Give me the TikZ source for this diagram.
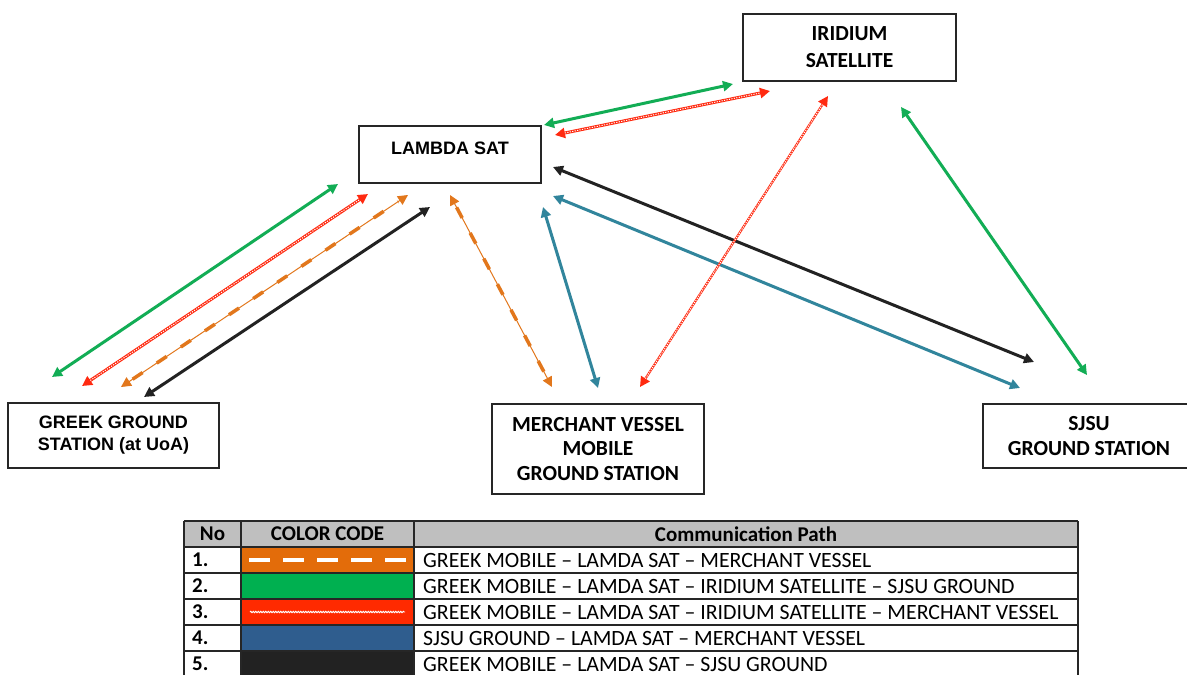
\documentclass[tikz,border=0pt]{standalone}
\usepackage{fontspec}
\setmainfont{Carlito}
\newfontfamily\arialf{Liberation Sans}
\usetikzlibrary{arrows.meta,decorations.pathmorphing}
\definecolor{cgreen}{HTML}{12AD55}
\definecolor{cred}{HTML}{FF2A10}
\definecolor{corange}{HTML}{E2771C}
\definecolor{cteal}{HTML}{31859C}
\definecolor{cblack}{HTML}{222222}
\definecolor{tgreen}{HTML}{00B050}
\definecolor{tred}{HTML}{FF2A00}
\definecolor{torange}{HTML}{E36C0A}
\definecolor{tblue}{HTML}{2F5D8E}
\definecolor{tgray}{HTML}{BFBFBF}
\tikzset{
  box/.style={draw=black!85, line width=1.3pt, fill=white, align=center, inner sep=0pt},
  calbox/.style={box, font=\bfseries\fontsize{21.5}{24.5}\selectfont},
  arialbox/.style={box, font=\arialf\bfseries\fontsize{18}{22}\selectfont},
  link/.style={line width=3pt, {Triangle[length=10pt,width=10pt]}-{Triangle[length=10pt,width=10pt]}},
  greenlink/.style={link, draw=cgreen},
  blacklink/.style={link, draw=cblack},
  bluelink/.style={link, draw=cteal},
  redlink/.style={link, draw=cred, postaction={draw=white, line width=1pt, dash pattern=on 1.2pt off 1.3pt, -, shorten <=10pt, shorten >=10pt}},
  thinredlink/.style={redlink, line width=2.2pt},
  orangelink/.style={draw=corange, line width=1pt, {Triangle[length=10pt,width=10pt]}-{Triangle[length=10pt,width=10pt]}, postaction={draw=corange, line width=3.5pt, dash pattern=on 12pt off 17pt, -, shorten <=14pt, shorten >=12pt}},
  cell/.style={draw=black!85, line width=1.2pt},
  hdr/.style={font=\bfseries\fontsize{21}{22}\selectfont, inner sep=0pt},
  txt/.style={font=\fontsize{21.8}{22}\selectfont, inner sep=0pt, anchor=west},
  numtxt/.style={txt, font=\bfseries\fontsize{21}{22}\selectfont},
}
\begin{document}
\begin{tikzpicture}[x=1pt,y=-1pt]
\useasboundingbox (0,0) rectangle (1187,675);
\clip (0,0) rectangle (1187,675);
\fill[white] (0,0) rectangle (1187,675);

% boxes
\node[calbox, minimum width=213, minimum height=67] (irid) at (849.5,47.5) {IRIDIUM\\[2.5pt]SATELLITE};
\node[arialbox, minimum width=182, minimum height=57, text height=13pt, text depth=13pt] (lambda) at (450,154.5) {LAMBDA SAT};
\node[arialbox, minimum width=211, minimum height=65] (greek) at (113.5,435.5) {GREEK GROUND\\STATION (at UoA)};
\node[calbox, minimum width=212, minimum height=90] (merchant) at (598,449) {MERCHANT VESSEL\\MOBILE\\GROUND STATION};
\node[calbox, minimum width=212, minimum height=64] (sjsu) at (1089,436) {SJSU\\GROUND STATION};

% connector end points
\coordinate (gA) at (52,377);   \coordinate (lA) at (338,184);
\coordinate (gB) at (82,386);   \coordinate (lB) at (368,194);
\coordinate (gC) at (121,387);  \coordinate (lC) at (408,195);
\coordinate (gD) at (144,397);  \coordinate (lD) at (430,207);
\coordinate (lE) at (450,195);  \coordinate (mE) at (552,387);
\coordinate (lF) at (543,207);  \coordinate (mF) at (598,388);
\coordinate (mG) at (640,387);  \coordinate (iG) at (828,96);
\coordinate (lH) at (553,196);  \coordinate (sH) at (1020,388);
\coordinate (lI) at (553,167);  \coordinate (sI) at (1034,362);
\coordinate (lJ) at (544,125);  \coordinate (iJ) at (733,84);
\coordinate (lK) at (555,135);  \coordinate (iK) at (770,91);
\coordinate (iL) at (901,107);  \coordinate (sL) at (1087,375);

\draw[greenlink] (gA) -- (lA);
\draw[redlink] (gB) -- (lB);
\draw[orangelink] (gC) -- (lC);
\draw[blacklink] (gD) -- (lD);
\draw[orangelink] (lE) -- (mE);
\draw[bluelink] (lF) -- (mF);
\draw[blacklink] (lI) -- (sI);
\draw[bluelink] (lH) -- (sH);
\draw[thinredlink] (mG) -- (iG);
\draw[greenlink] (lJ) -- (iJ);
\draw[redlink] (lK) -- (iK);
\draw[greenlink] (iL) -- (sL);

% table
\fill[tgray] (184,521) rectangle (1078,547);
\fill[torange] (241,547) rectangle (414,573);
\fill[tgreen] (241,573) rectangle (414,599);
\fill[tred] (241,599) rectangle (414,625);
\fill[tblue] (241,625) rectangle (414,651);
\fill[cblack] (241,651) rectangle (414,680);
\draw[white, line width=4.5pt, dash pattern=on 21pt off 13pt] (249,560) -- (410,560);
\draw[white, line width=0.9pt, decorate, decoration={snake, amplitude=0.7pt, segment length=2.5pt}] (250,612) -- (405,612);
\foreach \y in {521,547,573,599,625,651} \draw[cell] (184,\y) -- (1078,\y);
\foreach \x in {184,241,414,1078} \draw[cell] (\x,521) -- (\x,680);

\node[hdr] (hno) at (212.5,534) {No};
\node[hdr] (hcc) at (327.5,534) {COLOR CODE};
\node[hdr] (hcp) at (746,534) {Communication Path};

\node[numtxt] (n1) at (192,560) {1.};
\node[numtxt] (n2) at (192,586) {2.};
\node[numtxt] (n3) at (192,612) {3.};
\node[numtxt] (n4) at (192,638) {4.};
\node[numtxt] (n5) at (192,664) {5.};
\node[txt] (p1) at (423,560) {GREEK MOBILE – LAMDA SAT – MERCHANT VESSEL};
\node[txt] (p2) at (423,586) {GREEK MOBILE – LAMDA SAT – IRIDIUM SATELLITE – SJSU GROUND};
\node[txt] (p3) at (423,612) {GREEK MOBILE – LAMDA SAT – IRIDIUM SATELLITE – MERCHANT VESSEL};
\node[txt] (p4) at (423,638) {SJSU GROUND – LAMDA SAT – MERCHANT VESSEL};
\node[txt] (p5) at (423,664) {GREEK MOBILE – LAMDA SAT – SJSU GROUND};
\end{tikzpicture}
\end{document}
